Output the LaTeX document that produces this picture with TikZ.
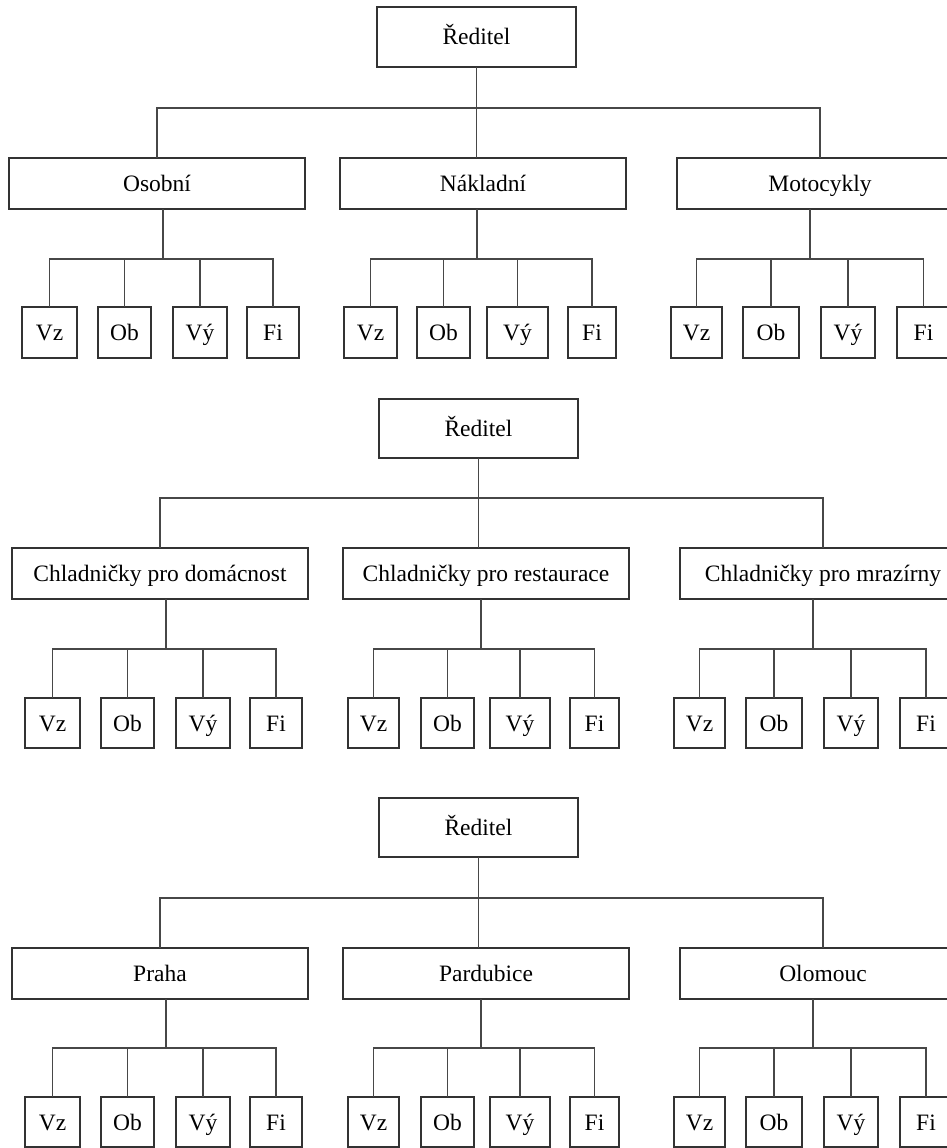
\documentclass[tikz,border=0pt]{standalone}
\usepackage{fontspec}
\setmainfont{Liberation Serif}
\begin{document}
\begin{tikzpicture}[x=1pt,y=-1pt,
  box/.style={draw=black!80,line width=1.2pt,fill=white,inner sep=0pt,outer sep=0pt,
    font=\fontsize{23.5}{28}\selectfont,text height=16pt,text depth=0pt,align=center},
  link/.style={draw=black!72,line width=1.1pt}]
\useasboundingbox (0,0) rectangle (947,1148);
\clip (0,0) rectangle (947,1148);
% a box given by its corners: name, x1, y1, x2, y2, text
\newcommand\cornerbox[6]{\node[box,minimum width={#4-#2},minimum height={#5-#3}] (#1) at ({(#2+#4)/2},{(#3+#5)/2}) {#6};}
% the four departments under a unit: unit, x-offset of the drop, bar y, children prefix
\newcommand\deptlinks[4]{%
  \draw[link] ([xshift=#2pt]#1.south) -- ([xshift=#2pt]#1.south |- 0,#3);
  \draw[link] (#4vz.north) -- (#4vz.north |- 0,#3) -- (#4fi.north |- 0,#3) -- (#4fi.north);
  \draw[link] (#4ob.north) -- (#4ob.north |- 0,#3);
  \draw[link] (#4vy.north) -- (#4vy.north |- 0,#3);}

% ---------- by product: cars ----------
\cornerbox{r1}{377}{7}{576}{67}{Ředitel}
\cornerbox{a1}{9}{158}{305}{209}{Osobní}
\cornerbox{b1}{340}{158}{626}{209}{Nákladní}
\cornerbox{c1}{677}{158}{963}{209}{Motocykly}
\draw[link] (r1.south) -- (r1.south |- 0,108);
\draw[link] (a1.north) -- (a1.north |- 0,108) -- (c1.north |- 0,108) -- (c1.north);
\draw[link] (b1.north -| r1.south) -- (r1.south |- 0,108);

\cornerbox{a1vz}{22}{307}{77}{358}{Vz}
\cornerbox{a1ob}{98}{307}{151}{358}{Ob}
\cornerbox{a1vy}{173}{307}{227}{358}{Vý}
\cornerbox{a1fi}{247}{307}{299}{358}{Fi}
\cornerbox{b1vz}{344}{307}{397}{358}{Vz}
\cornerbox{b1ob}{417}{307}{470}{358}{Ob}
\cornerbox{b1vy}{487}{307}{548}{358}{Vý}
\cornerbox{b1fi}{568}{307}{616}{358}{Fi}
\cornerbox{c1vz}{671}{307}{722}{358}{Vz}
\cornerbox{c1ob}{743}{307}{799}{358}{Ob}
\cornerbox{c1vy}{821}{307}{875}{358}{Vý}
\cornerbox{c1fi}{897}{307}{950}{358}{Fi}
\deptlinks{a1}{6}{259}{a1}
\deptlinks{b1}{-6}{259}{b1}
\deptlinks{c1}{-10}{259}{c1}

% ---------- by customer: refrigerators ----------
\cornerbox{r2}{379}{399}{578}{458}{Ředitel}
\cornerbox{a2}{12}{548}{308}{599}{Chladničky pro domácnost}
\cornerbox{b2}{343}{548}{629}{599}{Chladničky pro restaurace}
\cornerbox{c2}{680}{548}{966}{599}{Chladničky pro mrazírny}
\draw[link] (r2.south) -- (r2.south |- 0,498);
\draw[link] (a2.north) -- (a2.north |- 0,498) -- (c2.north |- 0,498) -- (c2.north);
\draw[link] (b2.north -| r2.south) -- (r2.south |- 0,498);

\cornerbox{a2vz}{25}{698}{80}{748}{Vz}
\cornerbox{a2ob}{101}{698}{154}{748}{Ob}
\cornerbox{a2vy}{176}{698}{230}{748}{Vý}
\cornerbox{a2fi}{250}{698}{302}{748}{Fi}
\cornerbox{b2vz}{348}{698}{399}{748}{Vz}
\cornerbox{b2ob}{421}{698}{474}{748}{Ob}
\cornerbox{b2vy}{490}{698}{550}{748}{Vý}
\cornerbox{b2fi}{570}{698}{619}{748}{Fi}
\cornerbox{c2vz}{674}{698}{725}{748}{Vz}
\cornerbox{c2ob}{746}{698}{802}{748}{Ob}
\cornerbox{c2vy}{824}{698}{878}{748}{Vý}
\cornerbox{c2fi}{900}{698}{952}{748}{Fi}
\deptlinks{a2}{6}{649}{a2}
\deptlinks{b2}{-5}{649}{b2}
\deptlinks{c2}{-10}{649}{c2}

% ---------- by region: cities ----------
\cornerbox{r3}{379}{798}{578}{857}{Ředitel}
\cornerbox{a3}{12}{948}{308}{999}{Praha}
\cornerbox{b3}{343}{948}{629}{999}{Pardubice}
\cornerbox{c3}{680}{948}{966}{999}{Olomouc}
\draw[link] (r3.south) -- (r3.south |- 0,898);
\draw[link] (a3.north) -- (a3.north |- 0,898) -- (c3.north |- 0,898) -- (c3.north);
\draw[link] (b3.north -| r3.south) -- (r3.south |- 0,898);

\cornerbox{a3vz}{25}{1097}{80}{1147}{Vz}
\cornerbox{a3ob}{101}{1097}{154}{1147}{Ob}
\cornerbox{a3vy}{176}{1097}{230}{1147}{Vý}
\cornerbox{a3fi}{250}{1097}{302}{1147}{Fi}
\cornerbox{b3vz}{348}{1097}{399}{1147}{Vz}
\cornerbox{b3ob}{421}{1097}{474}{1147}{Ob}
\cornerbox{b3vy}{490}{1097}{550}{1147}{Vý}
\cornerbox{b3fi}{570}{1097}{619}{1147}{Fi}
\cornerbox{c3vz}{674}{1097}{725}{1147}{Vz}
\cornerbox{c3ob}{746}{1097}{802}{1147}{Ob}
\cornerbox{c3vy}{824}{1097}{878}{1147}{Vý}
\cornerbox{c3fi}{900}{1097}{952}{1147}{Fi}
\deptlinks{a3}{6}{1048}{a3}
\deptlinks{b3}{-5}{1048}{b3}
\deptlinks{c3}{-10}{1048}{c3}
\end{tikzpicture}
\end{document}
